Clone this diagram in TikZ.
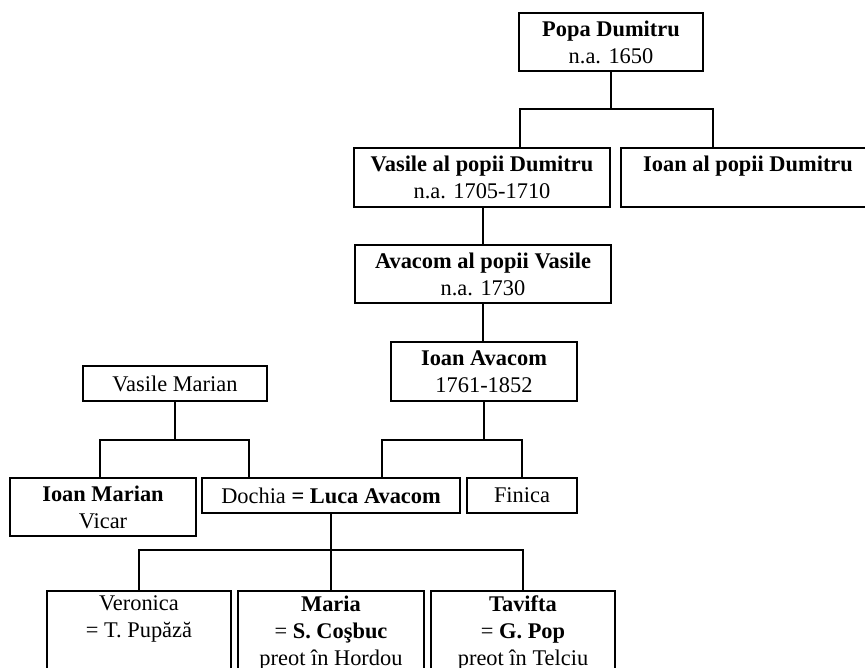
\documentclass[tikz,border=0pt]{standalone}
\usepackage{fontspec}
\setmainfont{Liberation Serif}
\tikzset{
  person/.style={draw, line width=1.8pt, inner sep=0pt, align=center,
    font=\fontsize{22.4}{27}\selectfont},
  link/.style={line width=1.8pt},
}
\begin{document}
\begin{tikzpicture}[x=1pt,y=-1pt]
\clip (0,0) rectangle (865,668);
\fill[white] (0,0) rectangle (865,668);
% boxes
\node[person, minimum width=184pt, minimum height=58pt] (popa) at (611,42) {\textbf{Popa Dumitru}\\n.a. 1650};
\node[person, minimum width=256pt, minimum height=59pt] (vasD) at (482,177.5) {\textbf{Vasile al popii Dumitru}\\n.a. 1705-1710};
\node[person, minimum width=254pt, minimum height=59pt] (ioanD) at (748,177.5) {\textbf{Ioan al popii Dumitru}\\\mbox{}};
\node[person, minimum width=256pt, minimum height=58pt] (avacom) at (483,274) {\textbf{Avacom al popii Vasile}\\n.a. 1730};
\node[person, minimum width=186pt, minimum height=59pt] (ioanA) at (484,371.5) {\textbf{Ioan Avacom}\\1761-1852};
\node[person, minimum width=184pt, minimum height=35pt] (vasM) at (175,383.5) {Vasile Marian};
\node[person, minimum width=186pt, minimum height=58pt] (ioanM) at (103,507) {\textbf{Ioan Marian}\\Vicar};
\node[person, minimum width=258pt, minimum height=35pt] (luca) at (331,495.5) {Dochia \textbf{= Luca Avacom}};
\node[person, minimum width=110pt, minimum height=35pt] (finica) at (522,495.5) {Finica};
\node[person, minimum width=184pt, inner ysep=5pt, anchor=north] (ver) at (139,590) {Veronica\\= T. Pupăză\\\mbox{}\\\mbox{}};
\node[person, minimum width=186pt, inner ysep=5pt, anchor=north] (mar) at (331,590) {\textbf{Maria}\\= \textbf{S. Coşbuc}\\preot în Hordou\\\mbox{}};
\node[person, minimum width=184pt, inner ysep=5pt, anchor=north] (tav) at (523,590) {\textbf{Tavifta}\\= \textbf{G. Pop}\\preot în Telciu\\\mbox{}};
% bus coordinates
\coordinate (bL1) at (520,109);
\coordinate (bR1) at (713,109);
\coordinate (bL3) at (382,440);
\coordinate (bR3) at (522,440);
\coordinate (bL4) at (100,440);
\coordinate (bR4) at (249,440);
\coordinate (bL5) at (139,550);
\coordinate (bR5) at (523,550);
% connectors
\draw[link] (popa.south) -- (popa.south |- bL1);
\draw[link] (vasD.north -| bL1) -- (bL1) -- (bR1) -- (ioanD.north -| bR1);
\draw[link] (vasD.south -| avacom.north) -- (avacom.north);
\draw[link] (avacom.south) -- (avacom.south |- ioanA.north);
\draw[link] (ioanA.south) -- (ioanA.south |- bL3);
\draw[link] (luca.north -| bL3) -- (bL3) -- (bR3) -- (finica.north);
\draw[link] (vasM.south) -- (vasM.south |- bL4);
\draw[link] (ioanM.north -| bL4) -- (bL4) -- (bR4) -- (luca.north -| bR4);
\draw[link] (luca.south) -- (luca.south |- bL5);
\draw[link] (ver.north) -- (bL5) -- (bR5) -- (tav.north);
\draw[link] (luca.south |- bL5) -- (mar.north);
\end{tikzpicture}
\end{document}
